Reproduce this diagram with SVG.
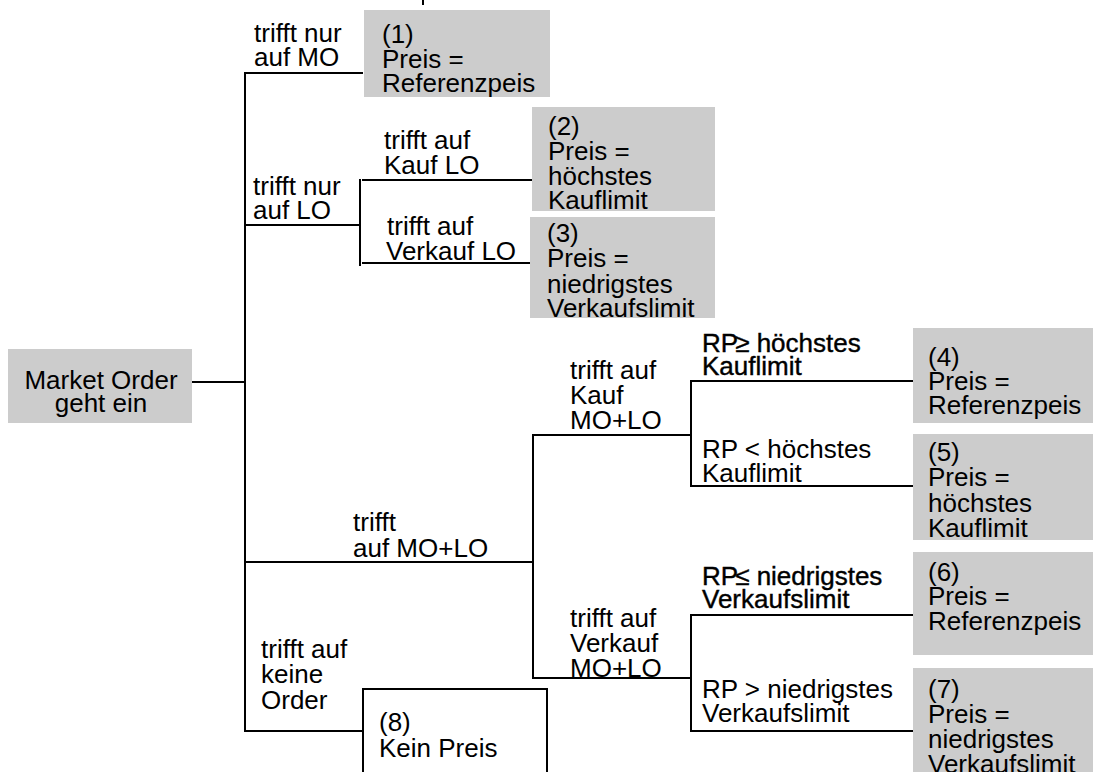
<svg xmlns="http://www.w3.org/2000/svg" width="1094" height="772" viewBox="0 0 1094 772">
<style>
text{font-family:"Liberation Sans",Arial,sans-serif;font-size:26px;fill:#000}
.box{fill:#cccccc;stroke:none}
.wbox{fill:#ffffff;stroke:#000;stroke-width:2}
.ln{stroke:#000;stroke-width:2;fill:none;stroke-linecap:square}
.bold{stroke:#000;stroke-width:0.4}
</style>
<rect width="1094" height="772" fill="#ffffff"/>
<g id="connectors">
<line class="ln" x1="423" y1="0" x2="423" y2="4"/>
<line class="ln" x1="192" y1="382" x2="245" y2="382"/>
<line class="ln" x1="245" y1="74" x2="245" y2="731"/>
<line class="ln" x1="245" y1="73" x2="362" y2="73"/>
<line class="ln" x1="245" y1="225" x2="360" y2="225"/>
<line class="ln" x1="360" y1="180" x2="360" y2="265"/>
<line class="ln" x1="363" y1="180" x2="532" y2="180"/>
<line class="ln" x1="363" y1="263" x2="530" y2="263"/>
<line class="ln" x1="245" y1="562" x2="533" y2="562"/>
<line class="ln" x1="533" y1="435" x2="533" y2="678"/>
<line class="ln" x1="533" y1="435" x2="691" y2="435"/>
<line class="ln" x1="691" y1="381" x2="691" y2="486"/>
<line class="ln" x1="691" y1="381" x2="913" y2="381"/>
<line class="ln" x1="691" y1="486" x2="913" y2="486"/>
<line class="ln" x1="533" y1="678" x2="691" y2="678"/>
<line class="ln" x1="691" y1="615" x2="691" y2="731"/>
<line class="ln" x1="691" y1="615" x2="913" y2="615"/>
<line class="ln" x1="691" y1="731" x2="913" y2="731"/>
<line class="ln" x1="245" y1="731" x2="363" y2="731"/>
</g>
<g id="labels">
<text x="254" y="42">trifft nur<tspan x="254" y="66">auf MO</tspan></text>
<text x="253" y="195">trifft nur<tspan x="253" y="219">auf LO</tspan></text>
<text x="384" y="149">trifft auf<tspan x="384" y="174">Kauf LO</tspan></text>
<text x="387" y="235">trifft auf<tspan x="386" y="260">Verkauf LO</tspan></text>
<text x="570" y="379">trifft auf<tspan x="570" y="404">Kauf</tspan><tspan x="570" y="429">MO+LO</tspan></text>
<text x="353" y="531">trifft<tspan x="353" y="557">auf MO+LO</tspan></text>
<text x="570" y="627">trifft auf<tspan x="570" y="652">Verkauf</tspan><tspan x="570" y="677">MO+LO</tspan></text>
<text x="261" y="658">trifft auf<tspan x="261" y="683">keine</tspan><tspan x="261" y="709">Order</tspan></text>
<text class="bold" x="702" y="352">RP<tspan dx="-3">≥</tspan> höchstes<tspan x="702" y="375">Kauflimit</tspan></text>
<text x="702" y="458">RP &lt; höchstes<tspan x="702" y="482">Kauflimit</tspan></text>
<text class="bold" x="702" y="585">RP<tspan dx="-3">≤</tspan> niedrigstes<tspan x="702" y="608">Verkaufslimit</tspan></text>
<text x="702" y="698">RP &gt; niedrigstes<tspan x="702" y="722">Verkaufslimit</tspan></text>
</g>
<g id="start">
<rect class="box" x="8" y="349" width="184" height="74"/>
<text x="101" y="389" text-anchor="middle">Market Order<tspan x="101" y="412">geht ein</tspan></text>
</g>
<g id="n1">
<rect class="box" x="364" y="10" width="186" height="87"/>
<text x="382" y="43">(1)<tspan x="382" y="68">Preis =</tspan><tspan x="382" y="92">Referenzpeis</tspan></text>
</g>
<g id="n2">
<rect class="box" x="532" y="107" width="183" height="104"/>
<text x="548" y="135">(2)<tspan x="548" y="160">Preis =</tspan><tspan x="548" y="185">höchstes</tspan><tspan x="548" y="209">Kauflimit</tspan></text>
</g>
<g id="n3">
<rect class="box" x="530" y="217" width="185" height="101"/>
<text x="547" y="242">(3)<tspan x="547" y="267">Preis =</tspan><tspan x="547" y="293">niedrigstes</tspan><tspan x="547" y="317">Verkaufslimit</tspan></text>
</g>
<g id="n4">
<rect class="box" x="913" y="328" width="180" height="95"/>
<text x="928" y="366">(4)<tspan x="928" y="390">Preis =</tspan><tspan x="928" y="414">Referenzpeis</tspan></text>
</g>
<g id="n5">
<rect class="box" x="913" y="434" width="180" height="106"/>
<text x="928" y="461">(5)<tspan x="928" y="486">Preis =</tspan><tspan x="928" y="512">höchstes</tspan><tspan x="928" y="537">Kauflimit</tspan></text>
</g>
<g id="n6">
<rect class="box" x="913" y="552" width="180" height="103"/>
<text x="928" y="581">(6)<tspan x="928" y="605">Preis =</tspan><tspan x="928" y="630">Referenzpeis</tspan></text>
</g>
<g id="n7">
<rect class="box" x="913" y="668" width="180" height="110"/>
<text x="928" y="698">(7)<tspan x="928" y="723">Preis =</tspan><tspan x="928" y="748">niedrigstes</tspan><tspan x="928" y="773">Verkaufslimit</tspan></text>
</g>
<g id="n8">
<rect class="wbox" x="363" y="689" width="184" height="100"/>
<text x="379" y="731">(8)<tspan x="379" y="757">Kein Preis</tspan></text>
</g>
</svg>
